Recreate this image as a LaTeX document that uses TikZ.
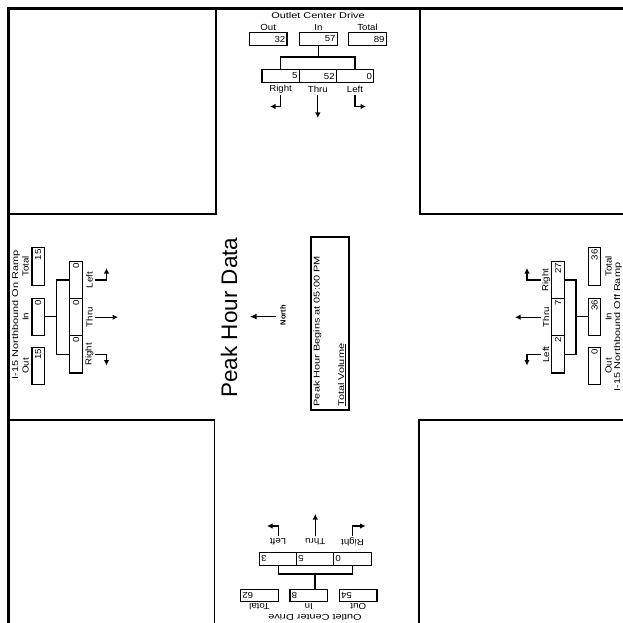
\documentclass[tikz,border=0pt]{standalone}
\usepackage{fontspec}
\setmainfont{Liberation Sans}
\newfontfamily\tfont[FakeStretch=1.3]{Liberation Sans}
\newfontfamily\lfont[FakeStretch=1.1]{Liberation Sans}
\usetikzlibrary{calc,arrows.meta}
\newcommand\cnt[6]{%
  \node[#1, rotate=#4, minimum width=#5] (#2) at (#3) {};
  \node[val, rotate=#4, anchor=east] (#2v) at ($(#2.east)!2pt!(#2.west)$) {#6};}
\begin{document}
\begin{tikzpicture}[x=1pt,y=-1pt,
  ttl/.style={font=\tfont\fontsize{8.4}{9}\selectfont, inner sep=0pt},
  lab/.style={font=\lfont\fontsize{8.8}{10}\selectfont, inner sep=0pt},
  val/.style={font=\lfont\fontsize{8.8}{10}\selectfont, inner sep=0pt},
  box/.style={draw, line width=1.1pt, minimum height=12.5pt, inner sep=0pt},
  lane/.style={draw, line width=1.1pt, minimum height=13pt, inner sep=0pt},
  wire/.style={line width=1.1pt},
  arr/.style={line width=1.1pt, -{Latex[length=5.5pt,width=5.5pt]}},
  frame/.style={line width=2.2pt},
  quad/.style={line width=1.2pt}
]
\useasboundingbox (0,0) rectangle (623,623);
% frame and quadrants
\draw[frame] (8.5,623) -- (8.5,8.5) -- (623,8.5);
\draw[quad] (8.5,214) -- (216,214) -- (216,8.5);
\draw[quad] (420,8.5) -- (420,214) -- (623,214);
\draw[quad] (8.5,420) -- (214.5,420) -- (214.5,623);
\draw[quad] (623,420) -- (419,420) -- (419,623);

% ---------- top approach ----------
\node[ttl] (tTitle) at (318,15) {Outlet Center Drive};
\node[lab] (tOutL) at (268.25,27) {Out};
\node[lab] (tInL) at (318.5,27) {In};
\node[lab] (tTotL) at (367.5,27) {Total};
\cnt{box}{tOut}{268.25,39}{0}{37.5pt}{32}
\cnt{box}{tIn}{318.5,39}{0}{37.5pt}{57}
\cnt{box}{tTot}{367.5,39}{0}{37.5pt}{89}
\cnt{lane}{tR}{280.6,76}{0}{37.2pt}{5}
\cnt{lane}{tT}{317.8,76}{0}{37.2pt}{52}
\cnt{lane}{tL}{355,76}{0}{37.2pt}{0}
\coordinate (tJ) at (318.5,57);
\draw[wire] (tIn.south) -- (tJ);
\draw[wire] (tR.north) |- (tJ) -| (tL.north);
\node[lab] (tRL) at (280.6,89) {Right};
\node[lab] (tTL) at (317.8,89) {Thru};
\node[lab] (tLL) at (355,89) {Left};
\coordinate (tRa) at (280.6,95); \coordinate (tRb) at (270,106.5);
\coordinate (tTa) at (317.8,95); \coordinate (tTb) at (317.8,118);
\coordinate (tLa) at (355,95);   \coordinate (tLb) at (366,106.5);
\draw[arr] (tRa) |- (tRb);
\draw[arr] (tTa) -- (tTb);
\draw[arr] (tLa) |- (tLb);

% ---------- bottom approach ----------
\node[ttl, rotate=180] (bTitle) at (315,617) {Outlet Center Drive};
\node[lab, rotate=180] (bTotL) at (259.5,607) {Total};
\node[lab, rotate=180] (bInL) at (308.75,607) {In};
\node[lab, rotate=180] (bOutL) at (358.25,607) {Out};
\cnt{box}{bTot}{259.5,595.5}{180}{37.5pt}{62}
\cnt{box}{bIn}{308.75,595.5}{180}{37.5pt}{8}
\cnt{box}{bOut}{358.25,595.5}{180}{37.5pt}{54}
\cnt{lane}{bL}{278.1,558.9}{180}{37.2pt}{3}
\cnt{lane}{bT}{315.3,558.9}{180}{37.2pt}{5}
\cnt{lane}{bR}{352.5,558.9}{180}{37.2pt}{0}
\coordinate (bJ) at (315,574);
\draw[wire] (bJ) -- (bJ |- bIn.south);
\draw[wire] (bL.north) |- (bJ) -| (bR.north);
\node[lab, rotate=180] (bLL) at (278.1,541.5) {Left};
\node[lab, rotate=180] (bTL) at (315.3,541.5) {Thru};
\node[lab, rotate=180] (bRL) at (352.5,541.5) {Right};
\coordinate (bLa) at (278.1,536); \coordinate (bLb) at (267,526);
\coordinate (bTa) at (315.3,536); \coordinate (bTb) at (315.3,514);
\coordinate (bRa) at (352.5,536); \coordinate (bRb) at (365.5,526);
\draw[arr] (bLa) |- (bLb);
\draw[arr] (bTa) -- (bTb);
\draw[arr] (bRa) |- (bRb);

% ---------- left approach ----------
\node[ttl, rotate=90] (lTitle) at (16,315) {I-15 Northbound On Ramp};
\node[lab, rotate=90] (lTotL) at (25.5,266.5) {Total};
\node[lab, rotate=90] (lInL) at (25.5,316.85) {In};
\node[lab, rotate=90] (lOutL) at (25.5,366.1) {Out};
\cnt{box}{lTot}{38.2,266.5}{90}{37.5pt}{15}
\cnt{box}{lIn}{38.2,316.85}{90}{37.5pt}{0}
\cnt{box}{lOut}{38.2,366.1}{90}{37.5pt}{15}
\cnt{lane}{lL}{76,280}{90}{37.2pt}{0}
\cnt{lane}{lT}{76,317.2}{90}{37.2pt}{0}
\cnt{lane}{lR}{76,354.4}{90}{37.2pt}{0}
\coordinate (lJ) at (56.8,316.85);
\draw[wire] (lIn.south) -- (lJ);
\draw[wire] (lL.north) -| (lJ) |- (lR.north);
\node[lab, rotate=90] (lLL) at (89.4,280) {Left};
\node[lab, rotate=90] (lTL) at (89.4,317.2) {Thru};
\node[lab, rotate=90] (lRL) at (89.4,354.4) {Right};
\coordinate (lLa) at (95,280);    \coordinate (lLb) at (106.5,268);
\coordinate (lTa) at (95,317.2);  \coordinate (lTb) at (118,317.2);
\coordinate (lRa) at (95,354.4);  \coordinate (lRb) at (106.5,365.5);
\draw[arr] (lLa) -| (lLb);
\draw[arr] (lTa) -- (lTb);
\draw[arr] (lRa) -| (lRb);

% ---------- right approach ----------
\node[ttl, rotate=90] (rTitle) at (618,327) {I-15 Northbound Off Ramp};
\node[lab, rotate=90] (rTotL) at (608.5,266.5) {Total};
\node[lab, rotate=90] (rInL) at (608.5,316.85) {In};
\node[lab, rotate=90] (rOutL) at (608.5,366.1) {Out};
\cnt{box}{rTot}{594.5,266.5}{90}{37.5pt}{36}
\cnt{box}{rIn}{594.5,316.85}{90}{37.5pt}{36}
\cnt{box}{rOut}{594.5,366.1}{90}{37.5pt}{0}
\cnt{lane}{rR}{558.1,280}{90}{37.2pt}{27}
\cnt{lane}{rT}{558.1,317.2}{90}{37.2pt}{7}
\cnt{lane}{rL}{558.1,354.4}{90}{37.2pt}{2}
\coordinate (rJ) at (576,316.85);
\draw[wire] (rIn.north) -- (rJ);
\draw[wire] (rR.south) -| (rJ) |- (rL.south);
\node[lab, rotate=90] (rRL) at (546,280) {Right};
\node[lab, rotate=90] (rTL) at (546,317.2) {Thru};
\node[lab, rotate=90] (rLL) at (546,354.4) {Left};
\coordinate (rRa) at (540.5,280);  \coordinate (rRb) at (527,268);
\coordinate (rTa) at (541,317.2);  \coordinate (rTb) at (515,317.2);
\coordinate (rLa) at (540.5,354.4); \coordinate (rLb) at (527,365.5);
\draw[arr] (rRa) -| (rRb);
\draw[arr] (rTa) -- (rTb);
\draw[arr] (rLa) -| (rLb);

% ---------- centre ----------
\node[font=\fontsize{22.5}{27}\selectfont, rotate=90, inner sep=0pt] (phd) at (229,317.5) {Peak Hour Data};
\node[font=\bfseries\fontsize{7.5}{9}\selectfont, rotate=90, inner sep=0pt] (north) at (283,315) {North};
\coordinate (nTail) at (276,316.6); \coordinate (nTip) at (250,316.6);
\draw[line width=1.2pt, -{Latex[length=6.5pt,width=6pt]}] (nTail) -- (nTip);
\node[draw, line width=1.1pt, rotate=90, minimum width=173pt, minimum height=38pt, inner sep=0pt] (info) at (330,323.5) {};
\node[ttl, rotate=90, anchor=west] (phb) at (317.5,406.5) {Peak Hour Begins at 05:00 PM};
\node[ttl, rotate=90, anchor=west] (tv) at (342,406.5) {\underline{Total Volume}};
\end{tikzpicture}
\end{document}
